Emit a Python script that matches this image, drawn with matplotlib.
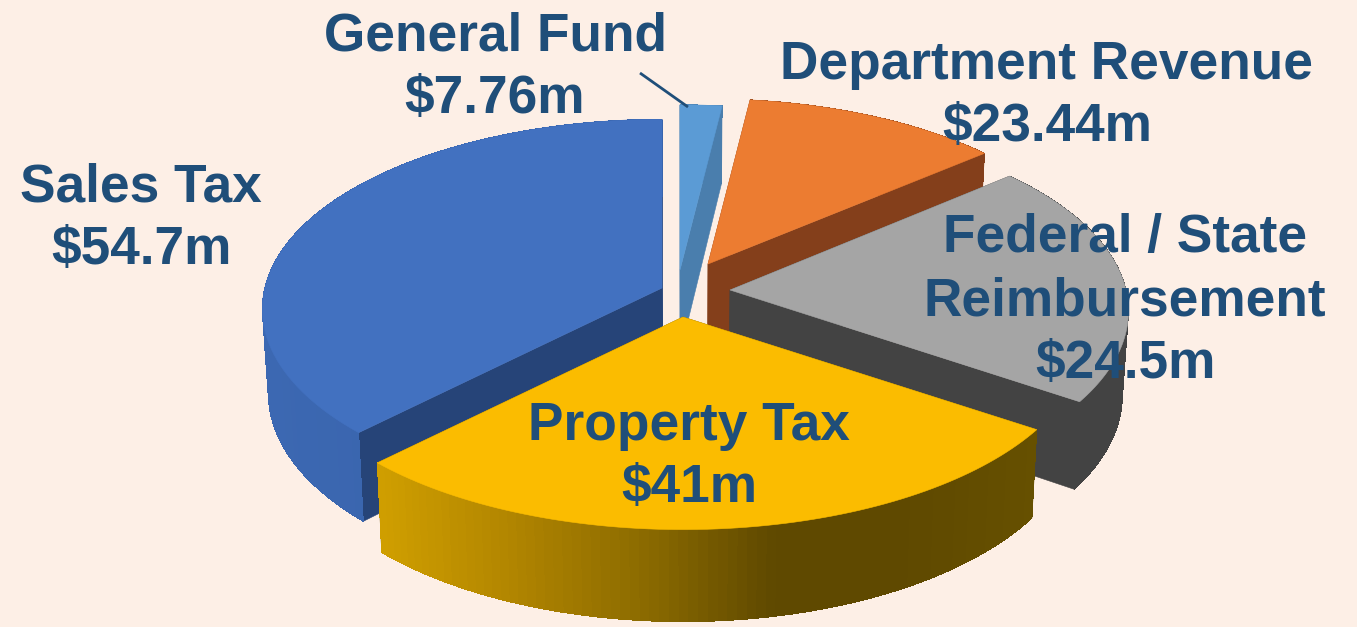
import matplotlib
matplotlib.use("Agg")
import matplotlib.pyplot as plt
from matplotlib.colors import LinearSegmentedColormap
from matplotlib.patches import Polygon
import numpy as np

plt.rcParams['font.family'] = ['Liberation Sans', 'DejaVu Sans']

# draw order is back to front
names = ["General Fund", "Department Revenue", "Federal / State\nReimbursement", "Sales Tax", "Property Tax"]
amounts = ["$7.76m", "$23.44m", "$24.5m", "$54.7m", "$41m"]
# slice sizes as drawn in the picture, they don't follow the printed amounts
slice_deg = [6.9, 42.8, 74.9, 135.3, 100.7]
start_deg = [0, 6.9, 49.2, 224.7, 124.0]

top_colors = ["#5B9BD5", "#EC7C31", "#A5A5A5", "#4271C0", "#FBBC00"]
side_colors = ["#4A7EAD", "#843F1B", "#434343", "#264478", "#645000"]
wall_colors = [["#4A7EAD", "#4A7EAD"], ["#843F1B", "#843F1B"], ["#434343", "#434343"],
               ["#3C68B2", "#3560A6"],
               ["#D09F00", "#B18500", "#8C6B00", "#5F4900", "#5F4900", "#665000"]]
apex_x = [680, 708, 730, 662, 683]
apex_y = [270, 264, 290, 288, 317]
radius = [0.97, 0.97, 0.99, 0.993, 1.0]
label_x = [495, 1047, 1125, 141, 689]
label_y = [68, 96, 301, 219, 457]

R = 400
TILT = 0.472
K = 0.112
MID_X = 690
bg = "#FDEFE6"
text_color = "#1F4E79"


def project(i, theta, r=1.0):
    t = np.radians(theta)
    X = r * np.sin(t)
    Y = r * np.cos(t)
    f = 1 / (1 + K * Y)
    return apex_x[i] + R * X * f, apex_y[i] - R * TILT * Y * f


def drop(x, y):
    return x - (x - MID_X) * 0.014, y + 84 + (y - 300) * 0.035


fig = plt.figure(figsize=(13.57, 6.27), dpi=100, facecolor=bg)
ax = fig.add_axes([0, 0, 1, 1])
ax.set_xlim(0, 1357)
ax.set_ylim(627, 0)
ax.axis("off")

for i in range(len(names)):
    th = np.linspace(start_deg[i], start_deg[i] + slice_deg[i], 81)
    xs, ys = project(i, th, radius[i])
    bx, by = drop(xs, ys)
    ax0, ay0 = apex_x[i], apex_y[i]
    bx0, by0 = drop(ax0, ay0)

    # flat walls along the two cut edges
    for j in (0, -1):
        wall = [(ax0, ay0), (xs[j], ys[j]), (bx[j], by[j]), (bx0, by0)]
        ax.add_patch(Polygon(wall, closed=True, fc=side_colors[i], ec=side_colors[i], lw=0.4))

    # outer wall: one base shape, then thin strips on top for the shading
    cmap = LinearSegmentedColormap.from_list("w", wall_colors[i])
    base = np.column_stack([np.r_[xs, bx[::-1]], np.r_[ys, by[::-1]]])
    ax.add_patch(Polygon(base, closed=True, fc=cmap(0.5), ec="none"))
    lo, hi = xs.min(), xs.max()
    for j in range(len(th) - 1):
        c = cmap((0.5 * (xs[j] + xs[j + 1]) - lo) / max(hi - lo, 1))
        strip = [(xs[j], ys[j]), (xs[j + 1], ys[j + 1]), (bx[j + 1], by[j + 1]), (bx[j], by[j])]
        ax.add_patch(Polygon(strip, closed=True, fc=c, ec="none", antialiased=False))

    top = np.column_stack([np.r_[ax0, xs], np.r_[ay0, ys]])
    ax.add_patch(Polygon(top, closed=True, fc=top_colors[i], ec=top_colors[i], lw=0.4))

ax.plot([640, 688], [73, 107], color=text_color, lw=2, solid_capstyle="butt")

for i in range(len(names)):
    ax.text(label_x[i], label_y[i], names[i] + "\n" + amounts[i], ha="center", va="center",
            fontsize=38.3, fontweight="bold", color=text_color, linespacing=1.33)

fig.savefig("out.png", dpi=100, facecolor=bg)
